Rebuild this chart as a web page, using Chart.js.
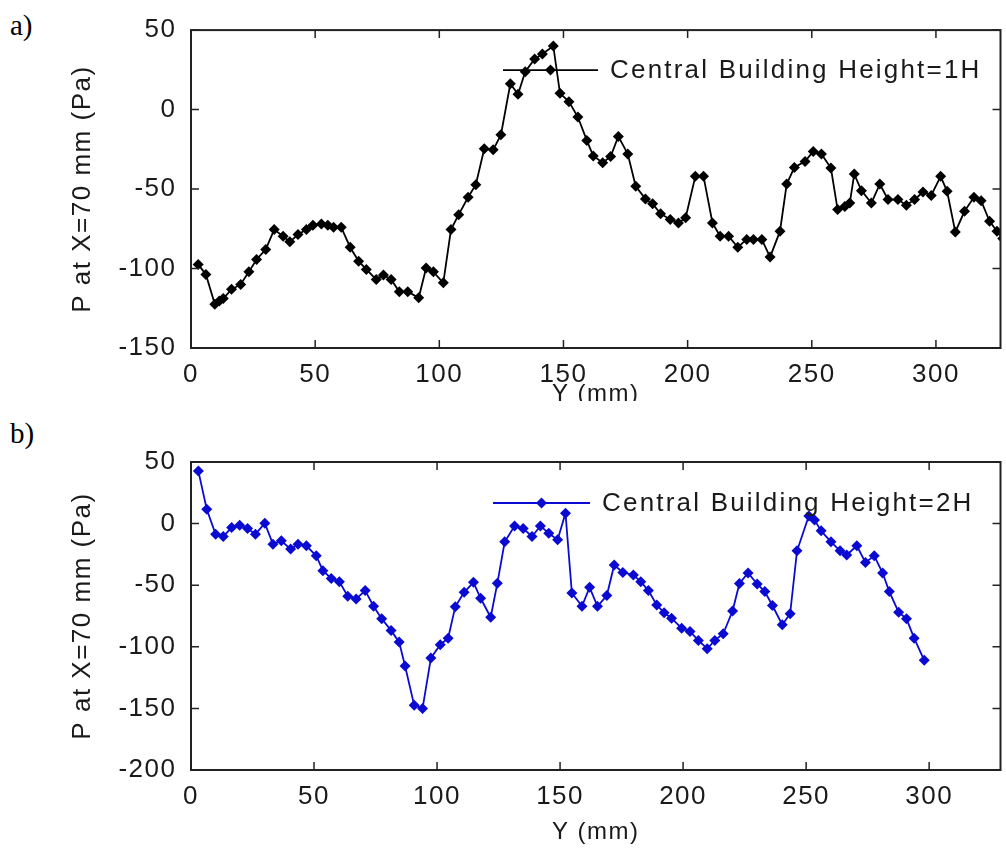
<!DOCTYPE html>
<html>
<head>
<meta charset="utf-8">
<script src="https://cdn.jsdelivr.net/npm/chart.js@4.4.1/dist/chart.umd.min.js"></script>
<style>
  body { margin: 0; width: 1006px; height: 862px; position: relative; background: #fff; overflow: hidden; }
  canvas { position: absolute; left: 0; }
  .lab { position: absolute; left: 10px; font-family: "Liberation Serif", serif; font-size: 29px; line-height: 29px; color: #000; }
</style>
</head>
<body>
<div class="lab" style="top:11px">a)</div>
<div class="lab" style="top:419px">b)</div>
<canvas id="chartA" width="1006" height="401" style="top:0"></canvas>
<canvas id="chartB" width="1006" height="461" style="top:401px"></canvas>
<script>
// Y position (mm) and pressure (Pa), panel a) 1H
const posA = [2.9, 6.0, 9.6, 11.4, 13.0, 16.3, 20.0, 23.3, 26.4, 30.1,
  33.5, 37.1, 39.8, 43.1, 46.5, 49.1, 52.5, 55.1, 57.4, 60.5,
  64.1, 67.5, 70.6, 74.6, 77.5, 80.6, 83.9, 87.3, 91.7, 94.7,
  97.6, 101.6, 104.7, 107.8, 111.6, 114.7, 118.1, 121.7, 124.8, 128.6,
  131.7, 134.6, 138.4, 141.5, 145.9, 148.6, 152.2, 155.8, 159.4, 162.0,
  165.8, 169.0, 172.1, 175.9, 179.1, 183.0, 185.9, 189.1, 193.0, 196.3,
  199.2, 203.1, 206.4, 210.0, 213.1, 216.5, 220.2, 223.8, 226.5, 229.9,
  233.2, 237.2, 239.9, 243.0, 247.3, 250.6, 253.9, 257.7, 260.4, 263.3,
  265.3, 267.1, 270.0, 274.0, 277.4, 280.7, 284.7, 288.1, 291.4, 294.8,
  298.1, 301.9, 304.5, 307.8, 311.5, 315.3, 318.2, 321.6, 324.6, 326.9];
const presA = [-97.4, -103.7, -122.5, -120.5, -118.9, -113.1, -110.0, -102.1, -94.3, -88.0,
  -75.5, -79.7, -83.2, -78.6, -75.5, -72.8, -72.0, -72.8, -74.1, -74.1,
  -86.6, -95.4, -100.6, -106.9, -104.1, -106.9, -114.6, -114.6, -118.4, -99.6,
  -102.1, -109.0, -75.5, -66.1, -55.2, -47.3, -24.7, -25.3, -15.9, 16.2,
  9.6, 23.8, 31.8, 35.0, 40.0, 10.2, 5.0, -4.7, -19.4, -29.2,
  -33.4, -29.5, -16.9, -28.0, -48.3, -56.2, -59.3, -65.5, -69.2, -71.3,
  -68.0, -42.0, -42.0, -71.3, -79.7, -79.7, -86.6, -81.7, -81.7, -81.7,
  -92.8, -76.5, -46.9, -36.4, -32.6, -26.3, -28.0, -36.8, -62.9, -60.9,
  -58.8, -40.6, -51.0, -58.8, -46.9, -56.6, -56.6, -60.2, -56.6, -51.9,
  -54.0, -42.0, -51.4, -77.0, -64.0, -55.2, -57.3, -70.3, -76.5, -81.1];

// panel b) 2H
const posB = [3.0, 6.4, 10.0, 13.1, 16.5, 19.8, 23.0, 26.2, 30.0, 33.3,
  36.7, 40.5, 43.5, 46.9, 50.9, 53.6, 57.0, 60.3, 63.7, 67.1,
  70.8, 74.2, 77.5, 81.3, 84.6, 87.0, 90.7, 94.1, 97.5, 101.3,
  104.5, 107.4, 111.0, 114.8, 117.7, 121.8, 124.5, 127.5, 131.5, 135.0,
  138.6, 142.0, 145.4, 149.0, 152.2, 154.8, 158.9, 162.0, 165.2, 169.0,
  172.0, 175.5, 179.8, 182.8, 185.9, 189.3, 192.3, 195.3, 199.4, 202.8,
  206.2, 209.8, 212.9, 216.3, 220.1, 222.9, 226.4, 230.1, 233.2, 236.3,
  240.3, 243.5, 246.3, 251.1, 253.4, 256.1, 260.1, 263.8, 266.5, 270.6,
  274.1, 277.7, 281.1, 283.8, 287.6, 290.8, 293.9, 298.0];
const presB = [42.6, 11.6, -8.6, -10.5, -3.2, -1.3, -4.0, -8.6, 0.3, -16.7,
  -14.0, -20.7, -16.7, -18.0, -26.1, -38.2, -44.5, -47.1, -59.0, -61.1,
  -54.4, -67.1, -77.3, -86.7, -96.2, -115.6, -147.4, -150.1, -109.1, -98.3,
  -93.0, -67.5, -55.8, -47.7, -60.6, -76.0, -48.5, -14.8, -1.9, -4.0,
  -10.5, -1.9, -7.8, -13.2, 8.4, -56.3, -67.1, -51.7, -67.1, -58.4,
  -33.6, -39.6, -41.7, -47.1, -54.4, -66.0, -72.4, -76.8, -84.9, -87.5,
  -94.8, -101.6, -94.8, -89.4, -71.0, -48.6, -40.1, -49.0, -55.2, -66.5,
  -82.1, -73.2, -22.1, 6.2, 3.0, -5.9, -14.8, -22.1, -25.5, -18.0,
  -31.5, -26.1, -40.1, -55.2, -71.9, -77.3, -93.0, -111.0];

const xTicks = [0, 50, 100, 150, 200, 250, 300];
const yTicksA = [-150, -100, -50, 0, 50];
const yTicksB = [-200, -150, -100, -50, 0, 50];

const FONT = '"Liberation Sans", Arial, sans-serif';
const TXT = '#1a1a1a';

// the old matlab text is wide, so space the letters out a bit
const spacing = {
  id: 'spacing',
  beforeDraw(chart) { chart.ctx.letterSpacing = '1.5px'; }
};

// box round the plot with inward ticks on all four sides
const frameTicks = {
  id: 'frameTicks',
  afterDatasetsDraw(chart) {
    const { ctx, chartArea: a, scales: { x, y } } = chart;
    ctx.save();
    ctx.strokeStyle = '#222';
    ctx.lineWidth = 2;
    ctx.strokeRect(a.left, a.top, a.right - a.left, a.bottom - a.top);
    ctx.lineWidth = 1.5;
    ctx.beginPath();
    x.ticks.forEach(t => {
      const px = x.getPixelForValue(t.value);
      ctx.moveTo(px, a.bottom); ctx.lineTo(px, a.bottom - 8);
      ctx.moveTo(px, a.top); ctx.lineTo(px, a.top + 8);
    });
    y.ticks.forEach(t => {
      const py = y.getPixelForValue(t.value);
      ctx.moveTo(a.left, py); ctx.lineTo(a.left + 8, py);
      ctx.moveTo(a.right, py); ctx.lineTo(a.right - 8, py);
    });
    ctx.stroke();
    ctx.restore();
  }
};

// matlab style legend: line + marker + label, no box
const lineLegend = {
  id: 'lineLegend',
  afterDraw(chart, args, opts) {
    const { ctx, chartArea: a } = chart;
    const ds = chart.data.datasets[0];
    const x0 = a.left + opts.dx, y0 = a.top + opts.dy;
    ctx.save();
    ctx.strokeStyle = ds.borderColor;
    ctx.lineWidth = 1.8;
    ctx.beginPath();
    ctx.moveTo(x0, y0); ctx.lineTo(x0 + opts.len, y0);
    ctx.stroke();
    const mx = x0 + opts.len / 2, r = 5.5;
    ctx.fillStyle = ds.borderColor;
    ctx.beginPath();
    ctx.moveTo(mx, y0 - r); ctx.lineTo(mx + r, y0); ctx.lineTo(mx, y0 + r); ctx.lineTo(mx - r, y0);
    ctx.closePath();
    ctx.fill();
    ctx.fillStyle = TXT;
    ctx.font = '26px ' + FONT;
    ctx.letterSpacing = '2.2px';
    ctx.textBaseline = 'middle';
    ctx.fillText(ds.label, x0 + opts.len + 12, y0 + 1);
    ctx.restore();
  }
};

function makeChart(id, xs, ys, label, color, xMax, yMin, yTicks, dims, legendPos) {
  const pts = xs.map((v, i) => ({ x: v, y: ys[i] }));
  return new Chart(document.getElementById(id), {
    type: 'line',
    data: {
      datasets: [{
        label: label,
        data: pts,
        borderColor: color,
        backgroundColor: color,
        borderWidth: 1.8,
        pointStyle: 'rectRot',
        pointRadius: 5.5,
        pointBorderWidth: 0,
        tension: 0
      }]
    },
    options: {
      responsive: false,
      animation: false,
      layout: { padding: { top: dims.top, right: 2, left: 0, bottom: 0 } },
      plugins: {
        legend: { display: false },
        tooltip: { enabled: false },
        lineLegend: legendPos
      },
      scales: {
        x: {
          type: 'linear', min: 0, max: xMax,
          afterBuildTicks: s => { s.ticks = xTicks.map(v => ({ value: v })); },
          afterFit: s => { s.height = dims.xh; },
          grid: { display: false, drawTicks: false },
          border: { display: false },
          ticks: { padding: 11, color: TXT, font: { size: 26, family: FONT }, maxRotation: 0, autoSkip: false },
          title: { display: true, text: 'Y (mm)', color: TXT, font: { size: 24, family: FONT }, padding: { top: 0, bottom: dims.tpad } }
        },
        y: {
          type: 'linear', min: yMin, max: 50,
          afterBuildTicks: s => { s.ticks = yTicks.map(v => ({ value: v })); },
          afterFit: s => { s.width = 191; },
          grid: { display: false, drawTicks: false },
          border: { display: false },
          ticks: { padding: 14.5, color: TXT, font: { size: 26, family: FONT }, autoSkip: false },
          title: { display: true, text: 'P at X=70 mm (Pa)', color: TXT, font: { size: 26, family: FONT }, padding: { top: 67, bottom: 0 } }
        }
      }
    },
    plugins: [spacing, frameTicks, lineLegend]
  });
}

makeChart('chartA', posA, presA, 'Central Building Height=1H', '#000000', 326, -150, yTicksA,
  { top: 28, xh: 53, tpad: -8 }, { dx: 312, dy: 40, len: 95 });
makeChart('chartB', posB, presB, 'Central Building Height=2H', '#0a0ad2', 329, -200, yTicksB,
  { top: 61, xh: 92, tpad: 15 }, { dx: 302, dy: 41, len: 97 });
</script>
</body>
</html>
